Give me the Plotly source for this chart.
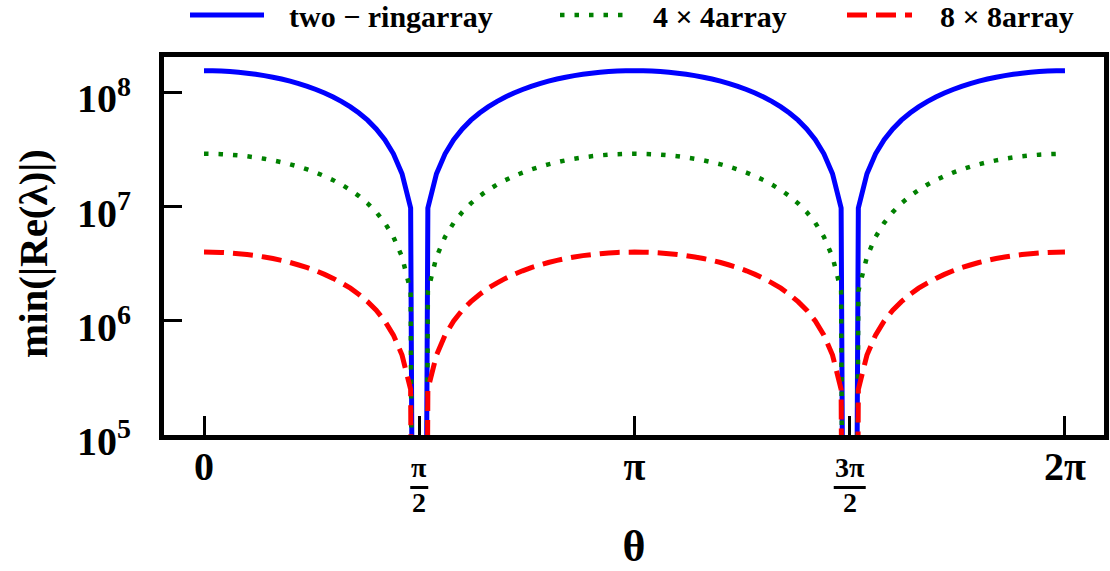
import math
import plotly.graph_objects as go

# Sampling grid: theta_k = k * pi / 50, k = 0..100
theta_index = list(range(101))
theta = [k * math.pi / 50 for k in theta_index]

# min(|Re(lambda)|) for each configuration, in units of 1e6
two_ring = [
    155.0, 154.7, 153.8, 152.3, 150.1, 147.4, 144.1, 140.2, 135.8, 130.9,
    125.4, 119.4, 113.0, 106.1, 98.8, 91.1, 83.1, 74.7, 66.0, 57.1,
    47.9, 38.5, 29.0, 19.4, 9.73, 1e-14, 9.73, 19.4, 29.0, 38.5,
    47.9, 57.1, 66.0, 74.7, 83.1, 91.1, 98.8, 106.1, 113.0, 119.4,
    125.4, 130.9, 135.8, 140.2, 144.1, 147.4, 150.1, 152.3, 153.8, 154.7,
    155.0,
    154.7, 153.8, 152.3, 150.1, 147.4, 144.1, 140.2, 135.8, 130.9, 125.4,
    119.4, 113.0, 106.1, 98.8, 91.1, 83.1, 74.7, 66.0, 57.1, 47.9,
    38.5, 29.0, 19.4, 9.73, 3e-14, 9.73, 19.4, 29.0, 38.5, 47.9,
    57.1, 66.0, 74.7, 83.1, 91.1, 98.8, 106.1, 113.0, 119.4, 125.4,
    130.9, 135.8, 140.2, 144.1, 147.4, 150.1, 152.3, 153.8, 154.7, 155.0,
]

array_4x4 = [
    29.0, 28.94, 28.77, 28.49, 28.09, 27.58, 26.96, 26.24, 25.41, 24.49,
    23.46, 22.35, 21.14, 19.85, 18.49, 17.05, 15.54, 13.97, 12.35, 10.68,
    8.96, 7.21, 5.43, 3.63, 1.82, 1.8e-15, 1.82, 3.63, 5.43, 7.21,
    8.96, 10.68, 12.35, 13.97, 15.54, 17.05, 18.49, 19.85, 21.14, 22.35,
    23.46, 24.49, 25.41, 26.24, 26.96, 27.58, 28.09, 28.49, 28.77, 28.94,
    29.0,
    28.94, 28.77, 28.49, 28.09, 27.58, 26.96, 26.24, 25.41, 24.49, 23.46,
    22.35, 21.14, 19.85, 18.49, 17.05, 15.54, 13.97, 12.35, 10.68, 8.96,
    7.21, 5.43, 3.63, 1.82, 5.3e-15, 1.82, 3.63, 5.43, 7.21, 8.96,
    10.68, 12.35, 13.97, 15.54, 17.05, 18.49, 19.85, 21.14, 22.35, 23.46,
    24.49, 25.41, 26.24, 26.96, 27.58, 28.09, 28.49, 28.77, 28.94, 29.0,
]

array_8x8 = [
    4.00, 3.99, 3.97, 3.93, 3.87, 3.80, 3.72, 3.62, 3.51, 3.38,
    3.24, 3.08, 2.92, 2.74, 2.55, 2.35, 2.14, 1.93, 1.70, 1.47,
    1.24, 0.995, 0.750, 0.501, 0.251, 2.4e-16, 0.251, 0.501, 0.750, 0.995,
    1.24, 1.47, 1.70, 1.93, 2.14, 2.35, 2.55, 2.74, 2.92, 3.08,
    3.24, 3.38, 3.51, 3.62, 3.72, 3.80, 3.87, 3.93, 3.97, 3.99,
    4.00,
    3.99, 3.97, 3.93, 3.87, 3.80, 3.72, 3.62, 3.51, 3.38, 3.24,
    3.08, 2.92, 2.74, 2.55, 2.35, 2.14, 1.93, 1.70, 1.47, 1.24,
    0.995, 0.750, 0.501, 0.251, 7.3e-16, 0.251, 0.501, 0.750, 0.995, 1.24,
    1.47, 1.70, 1.93, 2.14, 2.35, 2.55, 2.74, 2.92, 3.08, 3.24,
    3.38, 3.51, 3.62, 3.72, 3.80, 3.87, 3.93, 3.97, 3.99, 4.00,
]

series_names = ["two \u2212 ringarray", "4 \u00d7 4array", "8 \u00d7 8array"]
series_colors = ["#0000ff", "#008000", "#ff0000"]
series_dash = ["solid", "4.5px,10px", "20px,9px"]
series_width = [5, 4.5, 5]

# x ticks: whole multiples of pi carry plain labels; the half multiples
# get minor ticks and hand-stacked fraction labels
x_tickvals = [0, math.pi, 2 * math.pi]
x_ticktext = ["0", "\u03c0", "2\u03c0"]
frac_ticks = [math.pi / 2, 3 * math.pi / 2]
frac_numer = ["\u03c0", "3\u03c0"]
frac_denom = ["2", "2"]
frac_bar_halfwidth = [9, 16]

y_tickvals = [1e5, 1e6, 1e7, 1e8]
y_ticktext = ["10<sup>5</sup>", "10<sup>6</sup>", "10<sup>7</sup>", "10<sup>8</sup>"]
y_title = "min(|Re(\u03bb)|)"
x_title = "\u03b8"

SERIF = "Liberation Serif"

fig = go.Figure()
for name, vals, color, dash, width in zip(
    series_names, [two_ring, array_4x4, array_8x8], series_colors, series_dash, series_width
):
    fig.add_trace(
        go.Scatter(
            x=theta,
            y=[v * 1e6 for v in vals],
            mode="lines",
            name=name,
            line=dict(color=color, dash=dash, width=width, simplify=False),
            showlegend=False,
        )
    )

# Plot-area geometry (pixels)
W, H = 1110, 571
ML, MR, MT, MB = 164, 6, 57, 136
PW, PH = W - ML - MR, H - MT - MB


def px_x(px):
    return (px - ML) / PW


def px_y(py):
    return (H - MB - py) / PH


# Legend row above the frame: sample line start/end and text start
legend_rows = [
    (190, 264, 287),
    (560, 624, 651),
    (847, 912, 938),
]
legend_y = 15
for (x0, x1, xt), name, color, dash, width in zip(
    legend_rows, series_names, series_colors, series_dash, series_width
):
    fig.add_shape(
        type="line", xref="paper", yref="paper",
        x0=px_x(x0), x1=px_x(x1), y0=px_y(legend_y), y1=px_y(legend_y),
        line=dict(color=color, dash=dash, width=width),
    )
    fig.add_annotation(
        xref="paper", yref="paper", x=px_x(xt), y=px_y(legend_y + 1),
        xanchor="left", yanchor="middle", showarrow=False,
        text=name, font=dict(family=SERIF, size=30, weight="bold", color="black"),
    )

# Fraction tick labels: numerator, bar, denominator
frac_font = dict(family=SERIF, size=28, weight="bold", color="black")
for xv, num, den, hw in zip(frac_ticks, frac_numer, frac_denom, frac_bar_halfwidth):
    fig.add_annotation(
        xref="x", yref="paper", x=xv, y=px_y(467.5), xanchor="center", yanchor="middle",
        showarrow=False, text=num, font=frac_font,
    )
    fig.add_annotation(
        xref="x", yref="paper", x=xv, y=px_y(502.5), xanchor="center", yanchor="middle",
        showarrow=False, text=den, font=frac_font,
    )
    fig.add_shape(
        type="line", xref="x", yref="paper", xsizemode="pixel", xanchor=xv,
        x0=-hw, x1=hw, y0=px_y(487.5), y1=px_y(487.5),
        line=dict(color="black", width=3),
    )

# Vertical axis title
fig.add_annotation(
    xref="paper", yref="paper", x=px_x(33), y=px_y(254),
    xanchor="center", yanchor="middle", textangle=-90, showarrow=False,
    text=y_title, font=dict(family=SERIF, size=41, weight="bold", color="black"),
)

fig.update_xaxes(
    range=[-0.292, 6.568],
    tickvals=x_tickvals, ticktext=x_ticktext,
    ticks="inside", ticklen=19, tickwidth=3, tickcolor="black",
    minor=dict(tickvals=frac_ticks, ticks="inside", ticklen=19, tickwidth=3,
               tickcolor="black", showgrid=False),
    showline=True, linewidth=5, linecolor="black", mirror=True,
    showgrid=False, zeroline=False, automargin=False,
    ticklabelstandoff=-8,
    tickfont=dict(family=SERIF, size=40, weight="bold", color="black"),
    title=dict(text=x_title, standoff=47,
               font=dict(family=SERIF, size=44, weight="bold", color="black")),
)
fig.update_yaxes(
    type="log", range=[5.0, 8.31],
    tickvals=y_tickvals, ticktext=y_ticktext,
    ticks="inside", ticklen=18, tickwidth=3, tickcolor="black",
    showline=True, linewidth=5, linecolor="black", mirror=True,
    showgrid=False, zeroline=False, automargin=False,
    ticklabelstandoff=20, ticklabelshift=6,
    tickfont=dict(family=SERIF, size=40, weight="bold", color="black"),
)
fig.update_layout(
    width=W, height=H,
    margin=dict(l=ML, r=MR, t=MT, b=MB, autoexpand=False),
    plot_bgcolor="white", paper_bgcolor="white",
    font=dict(family=SERIF, color="black"),
    showlegend=False,
)

fig.write_html("out.html")
